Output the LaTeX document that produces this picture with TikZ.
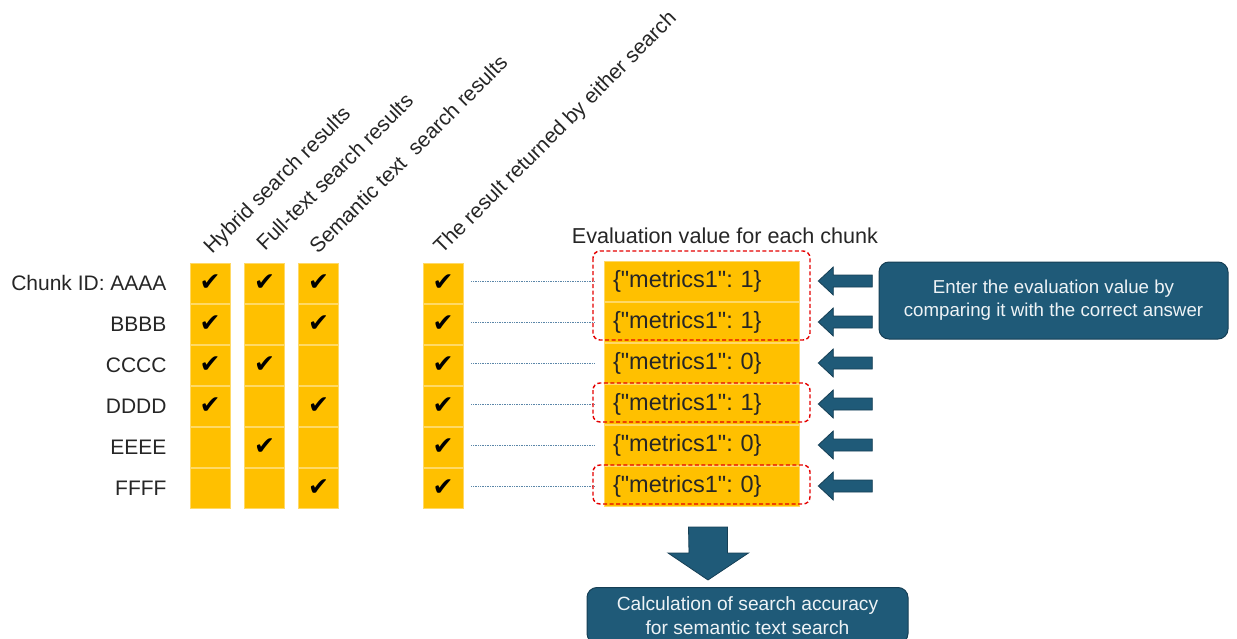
\documentclass[tikz,border=0pt]{standalone}
\usepackage{fontspec}
\setmainfont{Liberation Sans}[Ligatures=TeXOff]
\newfontfamily\symfont{DejaVu Sans}
\usetikzlibrary{calc}
\definecolor{gold}{HTML}{FFC000}
\definecolor{goldedge}{HTML}{FFD966}
\definecolor{tealblue}{HTML}{1F5A78}
\definecolor{tealdark}{HTML}{163F55}
\definecolor{txt}{HTML}{262626}
\definecolor{dotblue}{HTML}{5B86A8}
\definecolor{boxtxt}{HTML}{EEF3F6}
\frenchspacing
\begin{document}
\begin{tikzpicture}[x=1pt,y=-1pt,
  cell/.style={fill=gold, draw=goldedge, line width=0.6pt, minimum width=40pt, minimum height=40pt, inner sep=0pt, font=\symfont\fontsize{25}{25}\selectfont},
  metric/.style={fill=gold, draw=goldedge, line width=0.6pt, minimum width=195pt, minimum height=40pt, inner xsep=9pt, inner ysep=0pt, text width=177pt, align=left, text=txt, font=\fontsize{23.5}{25}\selectfont},
  rowlabel/.style={anchor=east, text=txt, inner sep=0pt, font=\fontsize{21}{22}\selectfont},
  collabel/.style={anchor=base west, rotate=45, text=txt, inner sep=0pt, font=\fontsize{21}{22}\selectfont},
  link/.style={dotblue, densely dotted, line width=0.7pt, shorten <=8pt, shorten >=9pt},
  dashbox/.style={red!90!black, dashed, line width=1.4pt, rounded corners=7pt, dash pattern=on 4pt off 2.5pt},
  blockarrow/.style={fill=tealblue, draw=tealdark, line width=0.8pt, line join=miter},
  bluebox/.style={fill=tealblue, draw=tealdark, line width=1pt, rounded corners=10pt, text=boxtxt, align=center, inner sep=0pt}
]
\useasboundingbox (0,0) rectangle (1237,639);
\clip (0,0) rectangle (1237,639);
\fill[white] (0,0) rectangle (1237,639);

% column labels
\node[collabel] (h1) at (212,255) {Hybrid search results};
\node[collabel] (h2) at (265,252) {Full-text search results};
\node[collabel] (h3) at (318,255) {Semantic text\ \ search results};
\node[collabel] (h4) at (442,255) {The result returned by either search};
\node[text=txt, inner sep=0pt, font=\fontsize{21.6}{23}\selectfont] (hm) at (725,236) {Evaluation value for each chunk};

% cells
\node[cell] (a1) at (210,283) {✔};
\node[cell] (a2) at (210,324) {✔};
\node[cell] (a3) at (210,365) {✔};
\node[cell] (a4) at (210,406) {✔};
\node[cell] (a5) at (210,447) {};
\node[cell] (a6) at (210,488) {};

\node[cell] (b1) at (264.5,283) {✔};
\node[cell] (b2) at (264.5,324) {};
\node[cell] (b3) at (264.5,365) {✔};
\node[cell] (b4) at (264.5,406) {};
\node[cell] (b5) at (264.5,447) {✔};
\node[cell] (b6) at (264.5,488) {};

\node[cell] (c1) at (318.5,283) {✔};
\node[cell] (c2) at (318.5,324) {✔};
\node[cell] (c3) at (318.5,365) {};
\node[cell] (c4) at (318.5,406) {✔};
\node[cell] (c5) at (318.5,447) {};
\node[cell] (c6) at (318.5,488) {✔};

\foreach \i/\y in {1/283,2/324,3/365,4/406,5/447,6/488}{
  \node[cell] (k\i) at (443,\y) {✔};
}

% row labels
\node[rowlabel] (l1) at ([xshift=-23pt]a1.west) {Chunk ID:\ AAAA};
\node[rowlabel] (l2) at ([xshift=-23pt]a2.west) {BBBB};
\node[rowlabel] (l3) at ([xshift=-23pt]a3.west) {CCCC};
\node[rowlabel] (l4) at ([xshift=-23pt]a4.west) {DDDD};
\node[rowlabel] (l5) at ([xshift=-23pt]a5.west) {EEEE};
\node[rowlabel] (l6) at ([xshift=-23pt]a6.west) {FFFF};

% metric boxes
\node[metric] (m1) at (701.5,281) {\{"metrics1": 1\}};
\node[metric] (m2) at (701.5,322) {\{"metrics1": 1\}};
\node[metric] (m3) at (701.5,363) {\{"metrics1": 0\}};
\node[metric] (m4) at (701.5,404) {\{"metrics1": 1\}};
\node[metric] (m5) at (701.5,445) {\{"metrics1": 0\}};
\node[metric] (m6) at (701.5,486) {\{"metrics1": 0\}};

% dotted links
\foreach \i in {1,...,6}{
  \draw[link] (k\i.east |- m\i.west) -- (m\i.west);
}

% dashed highlight boxes
\draw[dashbox] (593,251) rectangle (810,340);
\draw[dashbox] (593,383) rectangle (810,422);
\draw[dashbox] (593,465) rectangle (810,504);

% left block arrows
\foreach \i in {1,...,6}{
  \path (m\i.east) ++(19pt,0) coordinate (t\i);
  \draw[blockarrow] (t\i) -- ++(15,-14) -- ++(0,8) -- ++(39,0) -- ++(0,12) -- ++(-39,0) -- ++(0,8) -- cycle;
}

% instruction box
\node[bluebox, minimum width=349pt, minimum height=77pt, font=\fontsize{18.7}{23}\selectfont] (enter) at (1053.5,300.5)
  {Enter the evaluation value by\\comparing it with the correct answer};

% down arrow
\coordinate (dtop) at (708,527);
\draw[blockarrow] (dtop) ++(-19.5,0) -- ++(39,0) -- ++(0,26) -- ++(21,0) -- (708,580) -- ++(-40,-27) -- ++(21,0) -- cycle;

% result box
\node[bluebox, minimum width=321pt, minimum height=56pt, anchor=north, font=\fontsize{19.2}{23.5}\selectfont] (calc) at (747.5,587)
  {Calculation of search accuracy\\for semantic text search};

\end{tikzpicture}
\end{document}
